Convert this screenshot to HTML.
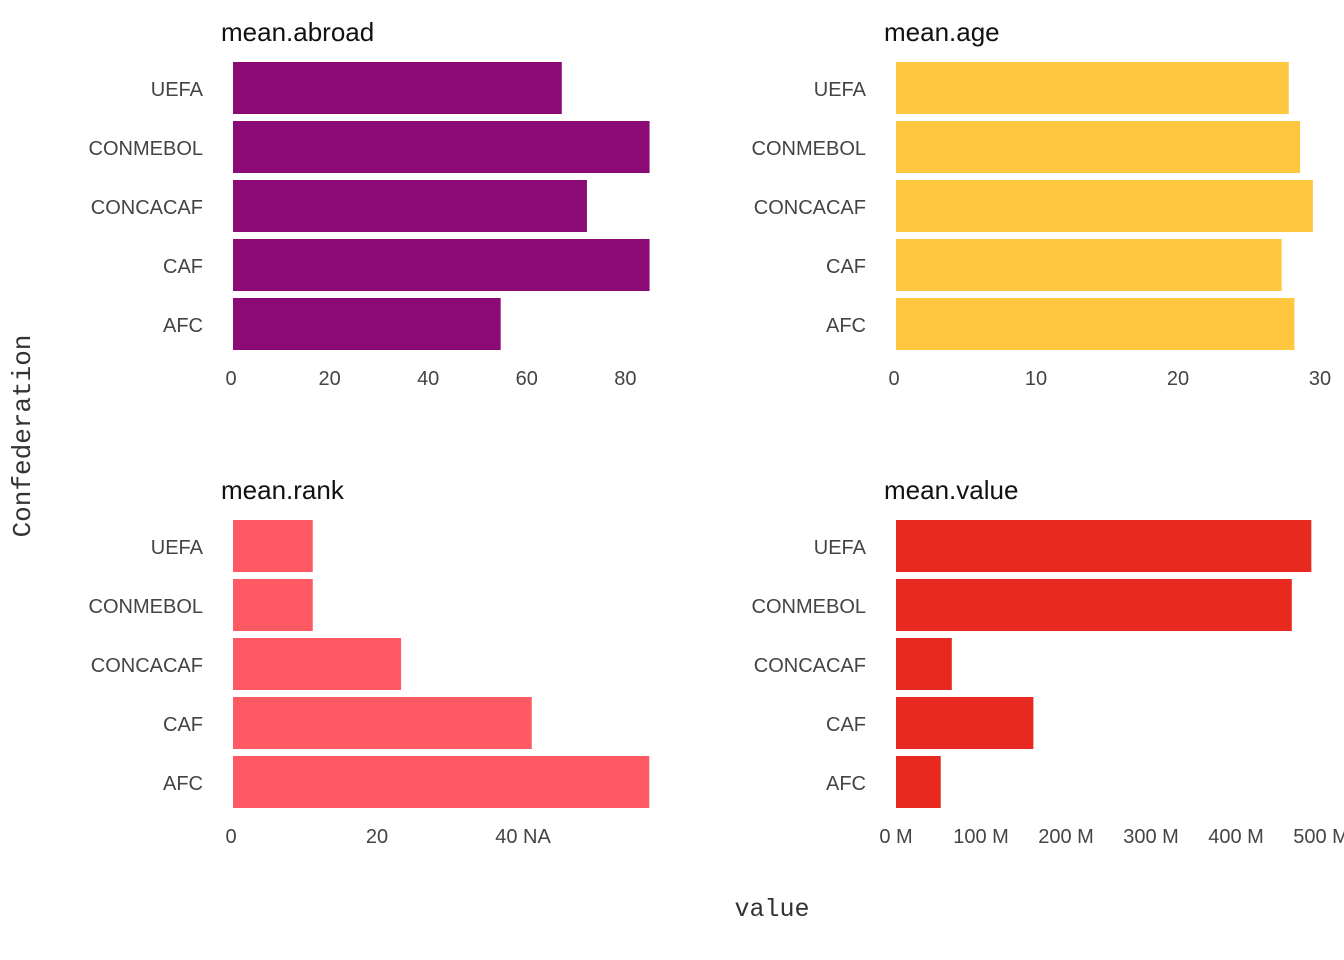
<!DOCTYPE html>
<html><head><meta charset="utf-8"><style>
body{margin:0;background:#fff;}
svg{display:block;font-family:"Liberation Sans",sans-serif;}
.cat{font-size:20px;fill:#444;text-anchor:end;}
.tick{font-size:20px;fill:#444;text-anchor:middle;}
.title{font-size:26px;fill:#111;}
</style></head><body>
<svg id="chart" width="1344" height="960">
<text x="772" y="916" font-family="Liberation Mono, monospace" font-size="25" fill="#333" text-anchor="middle">value</text>
<text x="0" y="0" transform="translate(30,436) rotate(-90)" font-family="Liberation Mono, monospace" font-size="26" fill="#333" text-anchor="middle">Confederation</text>
</svg>
<script>
const categories=["UEFA","CONMEBOL","CONCACAF","CAF","AFC"];
const abroadValues=[67.1,84.9,72.2,84.9,54.7];
const ageValues=[27.8,28.6,29.5,27.3,28.2];
const rankValues=[11.2,11.2,23.3,41.2,57.3];
const valueValues=[491,468,68,164,55];
const abroadTicks=[0,20,40,60,80];
const ageTicks=[0,10,20,30];
const rankTicks=[0,20,40];
const valueTicks=[0,100,200,300,400,500];
const panels=[
 {name:"mean.abroad",vals:abroadValues,ticks:abroadTicks,lab:t=>String(t),x0:231,ppu:4.93,top:62,color:"#8B0A75",tx:221,lx:203},
 {name:"mean.age",vals:ageValues,ticks:ageTicks,lab:t=>String(t),x0:894,ppu:14.2,top:62,color:"#FFC640",tx:884,lx:866},
 {name:"mean.rank",vals:rankValues,ticks:rankTicks,lab:t=>t===40?"40 NA":String(t),x0:231,ppu:7.3,top:520,color:"#FF5A64",tx:221,lx:203},
 {name:"mean.value",vals:valueValues,ticks:valueTicks,lab:t=>t+" M",x0:894,ppu:0.85,top:520,color:"#E8291F",tx:884,lx:866}
];
const svg=document.getElementById('chart');
const NS="http://www.w3.org/2000/svg";
function mk(tag,attrs,text){const e=document.createElementNS(NS,tag);for(const k in attrs)e.setAttribute(k,attrs[k]);if(text!==undefined)e.textContent=text;svg.appendChild(e);return e;}
panels.forEach(p=>{
 const xs=v=>p.x0+v*p.ppu;
 const t=mk('text',{x:p.tx,y:p.top-21,class:'title'},p.name);
 
 
 categories.forEach((c,i)=>{
  const y=p.top+i*59;
  const r=mk('rect',{x:xs(0)+2,y:y,width:Math.max(0,xs(p.vals[i])-xs(0)-2),height:52,fill:p.color});
  
  
  const l=mk('text',{x:p.lx,y:y+34,class:'cat'},c);
  
  
 });
 p.ticks.forEach(tk=>{
  const s=p.lab(tk);
  const e=mk('text',{x:xs(tk)+(p.name==="mean.value"?2:0),y:p.top+323,class:'tick'},s);
  
  
 });
});
</script>
</body></html>
